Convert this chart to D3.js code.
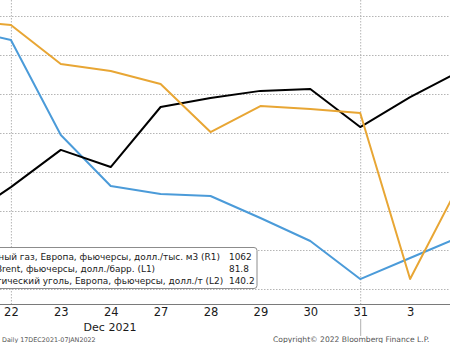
<!DOCTYPE html>
<html>
<head>
<meta charset="utf-8">
<script src="https://cdn.jsdelivr.net/npm/d3@7"></script>
<style>
  html, body { margin: 0; padding: 0; background: #fff; }
  svg { display: block; font-family: "DejaVu Sans", sans-serif; }
</style>
</head>
<body>
<svg id="chart" width="450" height="343"></svg>
<script>
// trading days visible in the crop (first and last run off the edges)
const dates = ['21 Dec', '22 Dec', '23 Dec', '24 Dec', '27 Dec', '28 Dec', '29 Dec', '30 Dec', '31 Dec', '3 Jan', '4 Jan'];
const tickLabels = ['21', '22', '23', '24', '27', '28', '29', '30', '31', '3', '4'];

// природный газ (R1), долл./тыс. м3
const gasValues = [2133, 2077, 1590, 1328, 1287, 1277, 1164, 1046, 851, 959, 1067];
// Brent (L1), долл./барр.
const brentValues = [74.12, 75.42, 76.85, 76.19, 78.5, 78.85, 79.12, 79.19, 77.73, 78.88, 79.88];
// энергетический уголь (L2), долл./т
const coalValues = [217.5, 215.4, 195.4, 191.8, 185.1, 160.5, 173.8, 172.3, 170.3, 85.1, 134.4];

const legendLabels = [
  'Природный газ, Европа, фьючерсы, долл./тыс. м3 (R1)',
  'Нефть Brent, фьючерсы, долл./барр. (L1)',
  'Энергетический уголь, Европа, фьючерсы, долл./т (L2)'
];
const legendValues = ['1062', '81.8', '140.2'];
const gridDates = ['22 Dec', '31 Dec'];

const svg = d3.select('#chart');
const axisY = 304;

const x = d3.scalePoint().domain(dates).range([-39, 460]);
const yGas = d3.scaleLinear().domain([800, 2200]).range([289, 16]);
const yBrent = d3.scaleLinear().domain([71.5, 82]).range([289, 16]);
const yCoal = d3.scaleLinear().domain([80, 220]).range([289, 16]);

// horizontal dotted gridlines (R1 ticks)
svg.append('g')
  .selectAll('line')
  .data(d3.range(800, 2201, 200))
  .join('line')
    .attr('x1', 0).attr('x2', 450)
    .attr('y1', d => yGas(d) + 0.5).attr('y2', d => yGas(d) + 0.5)
    .attr('stroke', '#b5b5b5')
    .attr('stroke-dasharray', '1.5,1.5');

// vertical dotted gridlines
svg.append('g')
  .selectAll('line')
  .data(gridDates)
  .join('line')
    .attr('x1', d => x(d) + 0.5).attr('x2', d => x(d) + 0.5)
    .attr('y1', 0).attr('y2', axisY)
    .attr('stroke', '#b5b5b5')
    .attr('stroke-dasharray', '1.5,1.5');

// series
const series = [
  { values: gasValues, y: yGas, color: '#4b9bd9' },
  { values: brentValues, y: yBrent, color: '#000000' },
  { values: coalValues, y: yCoal, color: '#e8a634' }
];
series.forEach(s => {
  const line = d3.line()
    .x((d, i) => x(dates[i]))
    .y(d => s.y(d));
  svg.append('path')
    .datum(s.values)
    .attr('d', line)
    .attr('fill', 'none')
    .attr('stroke', s.color)
    .attr('stroke-width', 2)
    .attr('stroke-linejoin', 'round');
});

// legend
const legend = svg.append('g');
legend.append('rect')
  .attr('x', -80).attr('y', 247.5)
  .attr('width', 337).attr('height', 41)
  .attr('rx', 3)
  .attr('fill', '#ffffff')
  .attr('stroke', '#8c8c8c');

const rowY = [259.5, 271.5, 283.5];
const legendFont = 8.95;
const texts = legend.selectAll('text.lbl')
  .data(legendLabels)
  .join('text')
    .attr('class', 'lbl')
    .attr('y', (d, i) => rowY[i])
    .attr('font-size', legendFont)
    .attr('fill', '#1a1a1a')
    .text(d => d);
const w0 = texts.node().getComputedTextLength();
texts.attr('x', 220 - w0);

legend.selectAll('text.val')
  .data(legendValues)
  .join('text')
    .attr('class', 'val')
    .attr('x', 229)
    .attr('y', (d, i) => rowY[i])
    .attr('font-size', legendFont)
    .attr('fill', '#1a1a1a')
    .text(d => d);

// x axis
svg.append('line')
  .attr('x1', 0).attr('x2', 450)
  .attr('y1', axisY + 0.5).attr('y2', axisY + 0.5)
  .attr('stroke', '#7a7a7a');

const xAxis = d3.axisBottom(x)
  .tickSize(0)
  .tickPadding(4)
  .tickFormat((d, i) => tickLabels[i]);

svg.append('g')
  .attr('transform', `translate(0,${axisY})`)
  .call(xAxis)
  .call(g => g.select('.domain').remove())
  .call(g => g.selectAll('text')
    .attr('font-family', '"DejaVu Sans", sans-serif')
    .attr('font-size', 11.5)
    .attr('fill', '#1a1a1a'));

// month separator
svg.append('line')
  .attr('x1', x('31 Dec') + 0.5).attr('x2', x('31 Dec') + 0.5)
  .attr('y1', 319).attr('y2', 336)
  .attr('stroke', '#b0b0b0');

svg.append('text')
  .attr('x', 110).attr('y', 330.5)
  .attr('text-anchor', 'middle')
  .attr('font-size', 11)
  .attr('fill', '#1a1a1a')
  .text('Dec 2021');

// footer
svg.append('text')
  .attr('x', 2).attr('y', 341.5)
  .attr('font-size', 6.4)
  .attr('fill', '#555')
  .text('Daily 17DEC2021-07JAN2022');

svg.append('text')
  .attr('x', 273).attr('y', 341.5)
  .attr('font-size', 7.6)
  .attr('fill', '#555')
  .text('Copyright© 2022 Bloomberg Finance L.P.');
</script>
</body>
</html>
